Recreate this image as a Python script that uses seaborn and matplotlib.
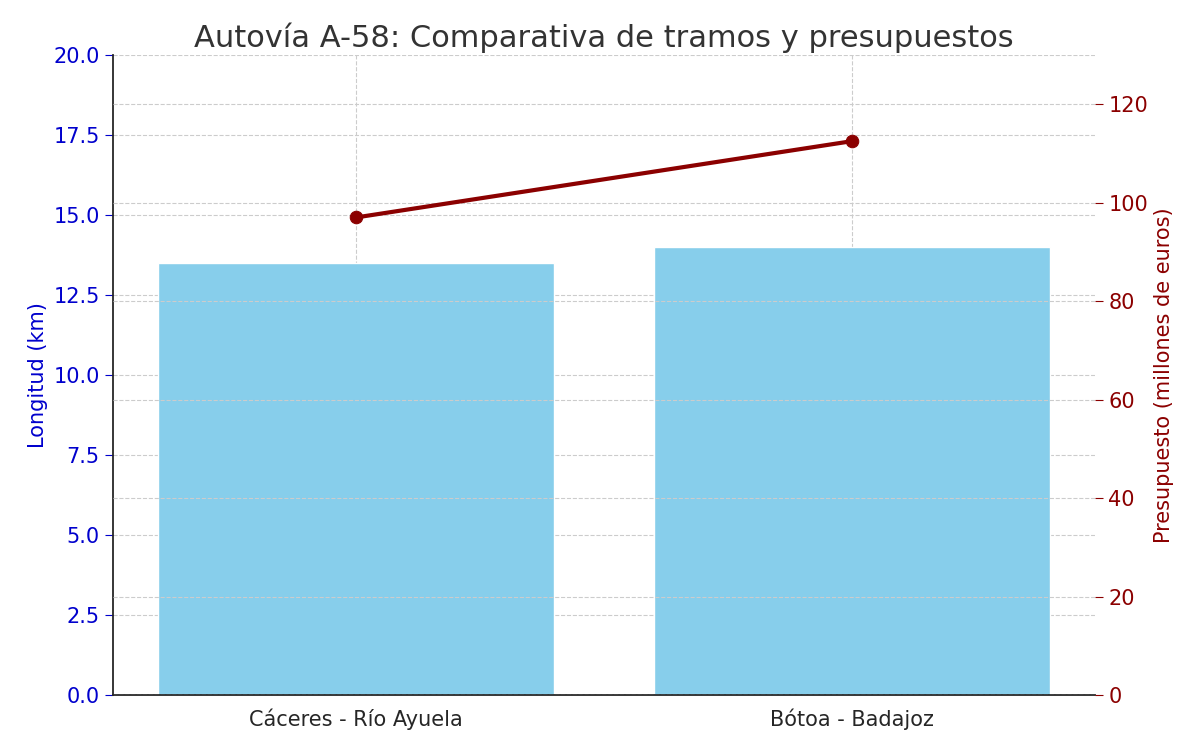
import matplotlib
matplotlib.use("Agg")
import matplotlib.pyplot as plt
import seaborn as sns
import pandas as pd

tramos = ["Cáceres - Río Ayuela", "Bótoa - Badajoz"]
longitud_km = [13.5, 14.0]
presupuesto_meur = [97.0, 112.5]

sns.set_style("white")
plt.rcParams['font.family'] = ['DejaVu Sans']
fig = plt.figure(figsize=(12, 7.44), dpi=100)
ax = fig.add_axes([113/1200, 1-695/744, (1095-113)/1200, 640/744])
df = pd.DataFrame({"tramo": tramos, "km": longitud_km, "meur": presupuesto_meur})
sns.barplot(data=df, x="tramo", y="km", color="skyblue", saturation=1, width=0.8, ax=ax)
ax.set_ylim(0, 20)
ax.set_xlabel("")
ax.set_ylabel("Longitud (km)", color="mediumblue", fontsize=15)
ax.tick_params(axis="y", colors="mediumblue", labelsize=15, length=6)
ax.tick_params(axis="x", labelsize=15, length=6)
ax.grid(True, linestyle="--", color="#cccccc", linewidth=0.8)
ax.set_axisbelow(True)
ax.set_yticks([0, 2.5, 5, 7.5, 10, 12.5, 15, 17.5, 20])
for s in ["top", "right"]:
    ax.spines[s].set_visible(False)
ax.spines["left"].set_linewidth(1.3)
ax.spines["bottom"].set_linewidth(1.3)

ax2 = ax.twinx()
sns.lineplot(data=df, x="tramo", y="meur", color="darkred", marker="o", markersize=9,
             markeredgecolor="darkred", linewidth=3, ax=ax2)
ax2.set_ylim(0, 130)
ax2.set_ylabel("Presupuesto (millones de euros)", color="darkred", fontsize=15)
ax2.tick_params(axis="y", colors="darkred", labelsize=15, length=6)
ax2.grid(True, axis="y", linestyle="--", color="#cccccc", linewidth=0.8)
for s in ["top", "right", "left", "bottom"]:
    ax2.spines[s].set_visible(False)
ax2.set_xlabel("")
ax.set_title("Autovía A-58: Comparativa de tramos y presupuestos", fontsize=22, color="#333333")
fig.savefig("out.png", dpi=100)
